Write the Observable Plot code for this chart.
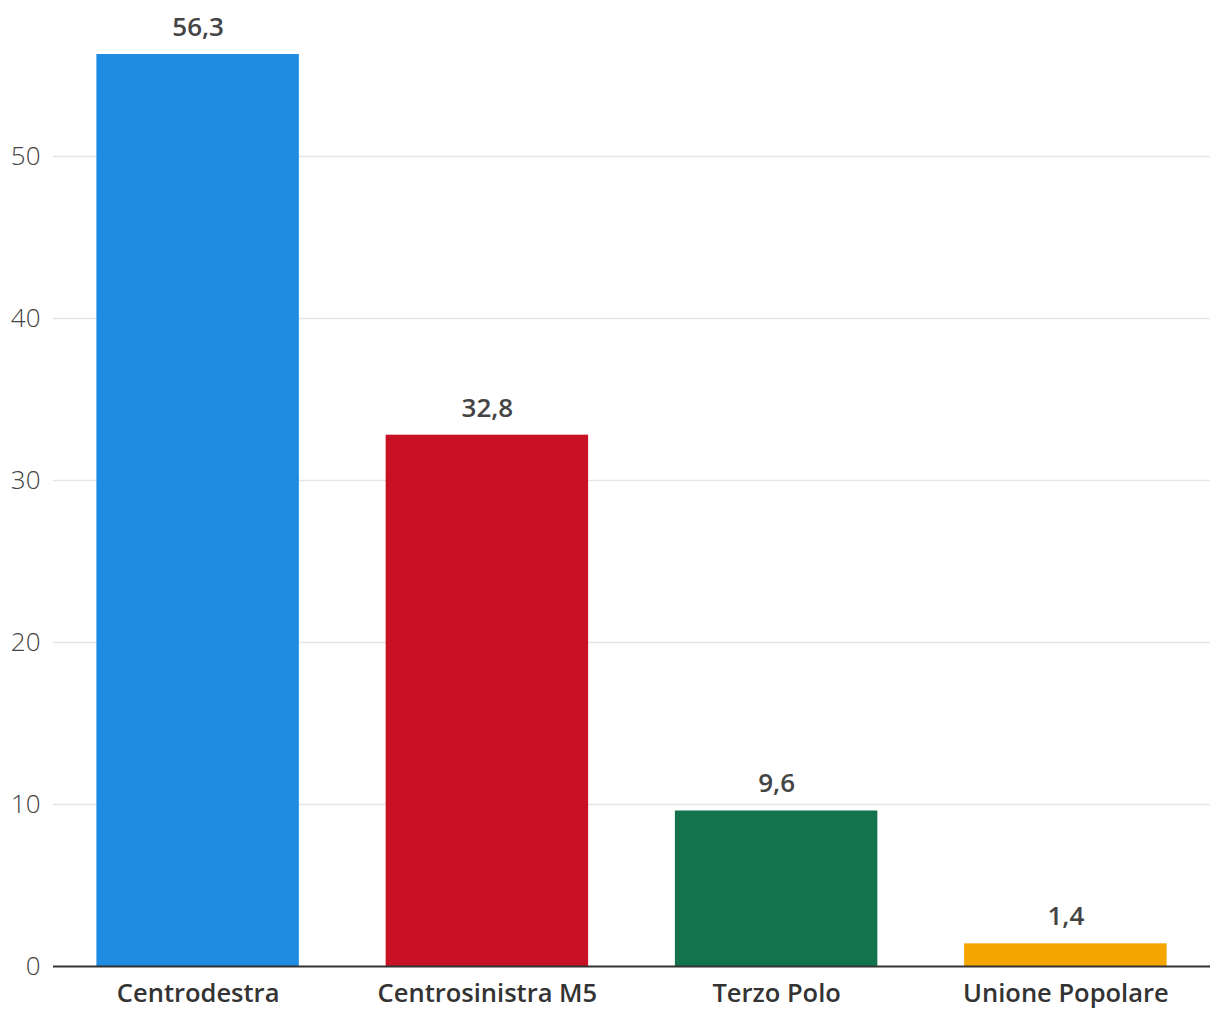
<!DOCTYPE html>
<html>
<head>
<meta charset="utf-8">
<script src="https://cdn.jsdelivr.net/npm/d3@7"></script>
<script src="https://cdn.jsdelivr.net/npm/@observablehq/plot@0.6"></script>
<style>
  html, body { margin: 0; padding: 0; background: #fff; }
  #chart svg { display: block; }
</style>
</head>
<body>
<div id="chart"></div>
<script>
const categories = ["Centrodestra", "Centrosinistra M5", "Terzo Polo", "Unione Popolare"];
const values = [56.3, 32.8, 9.6, 1.4];
const colors = ["#1e8ce3", "#c91126", "#13734d", "#f5a500"];
const yTicks = [0, 10, 20, 30, 40, 50];

const data = categories.map((c, i) => ({category: c, value: values[i], color: colors[i]}));
const fmt = v => v.toFixed(1).replace(".", ",");

const chart = Plot.plot({
  width: 1220,
  height: 1020,
  marginLeft: 53,
  marginRight: 10,
  marginTop: 54,
  marginBottom: 54,
  style: {fontFamily: "'Open Sans', sans-serif", background: "#fff"},
  x: {domain: categories, paddingInner: 0.3, paddingOuter: 0.15, label: null, round: false},
  y: {domain: [0, 56.3], label: null},
  marks: [
    Plot.gridY(yTicks.filter(d => d > 0), {stroke: "#e5e5e5", strokeOpacity: 1, strokeWidth: 1.5}),
    Plot.barY(data, {x: "category", y: "value", fill: "color"}),
    Plot.ruleY([0], {stroke: "#333", strokeWidth: 2}),
    Plot.text(data, {x: "category", y: "value", text: d => fmt(d.value), dy: -27, fontSize: 26, fontWeight: 600, fill: "#444", textAnchor: "middle"}),
    Plot.axisY(yTicks, {tickSize: 0, tickPadding: 13, fontSize: 26, fill: "#444", fontWeight: 300, label: null}),
    Plot.axisX({tickSize: 0, tickPadding: 17, fontSize: 25.5, fontWeight: 600, fill: "#333", label: null})
  ]
});
document.getElementById("chart").appendChild(chart);
</script>
</body>
</html>
